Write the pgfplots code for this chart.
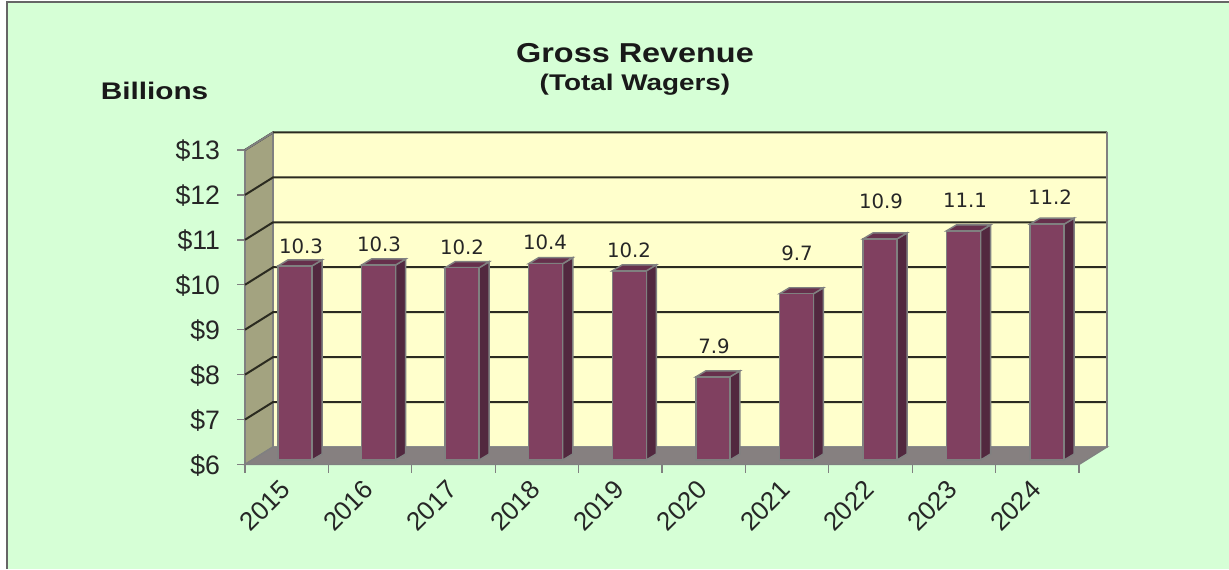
\documentclass[border=0pt]{standalone}
\usepackage{pgfplots}
\usepackage{pgfplotstable}
\usepackage{fontspec}
\setmainfont{Liberation Sans}
\newfontfamily\labfont{DejaVu Sans}
\pgfplotsset{compat=1.18}
\definecolor{bg}{HTML}{D6FFD6}
\definecolor{wall}{HTML}{FFFFCC}
\definecolor{lwall}{HTML}{A3A380}
\definecolor{floorc}{HTML}{868080}
\definecolor{face}{HTML}{804060}
\definecolor{side}{HTML}{52283F}
\definecolor{topc}{HTML}{66304C}
\definecolor{edge}{HTML}{808080}
\definecolor{gridc}{HTML}{2B2B20}
\pgfplotstableread{
x y lab
0.672 10.863 10.3
1.607 10.908 10.3
2.602 10.841 10.2
3.597 10.952 10.4
4.604 10.774 10.2
5.624 8.637 7.9
6.619 10.707 9.7
7.626 11.865 10.9
8.633 11.887 11.1
9.652 11.954 11.2
}\labels
\newcommand{\tbar}[2]{%
  \pgfmathsetmacro{\xa}{#1-0.204}\pgfmathsetmacro{\xb}{#1+0.204}%
  \pgfmathsetmacro{\xc}{\xb+0.120}\pgfmathsetmacro{\xd}{\xa+0.120}%
  \pgfmathsetmacro{\ya}{6.100}\pgfmathsetmacro{\yb}{#2+0.100}%
  \pgfmathsetmacro{\yc}{\ya+0.134}\pgfmathsetmacro{\yd}{\yb+0.134}%
  \edef\tmp{%
    \noexpand\addplot[fill=side,draw=edge,line width=1.1pt] coordinates {(\xb,\ya)(\xc,\yc)(\xc,\yd)(\xb,\yb)} -- cycle;
    \noexpand\addplot[fill=topc,draw=edge,line width=1.1pt] coordinates {(\xa,\yb)(\xb,\yb)(\xc,\yd)(\xd,\yd)} -- cycle;
    \noexpand\addplot[fill=face,draw=edge,line width=1.1pt] coordinates {(\xa,\ya)(\xb,\ya)(\xb,\yb)(\xa,\yb)} -- cycle;
  }\tmp}
\newcommand{\gline}[1]{%
  \pgfmathsetmacro{\yy}{#1+0.39}%
  \edef\tmp{\noexpand\addplot[draw=gridc,line width=1.5pt] coordinates {(0,#1)(0.336,\yy)(10.336,\yy)};}\tmp}
\begin{document}
\begin{tikzpicture}
\path[use as bounding box] (0pt,0pt) rectangle (921.75pt,426.75pt);
\fill[white] (0pt,0pt) rectangle (921.75pt,426.75pt);
\fill[bg] (5.25pt,0pt) rectangle (921.75pt,425.25pt);
\draw[color=gray!80!black,line width=0.9pt] (5.25pt,0pt) -- (5.25pt,425.25pt) -- (921.75pt,425.25pt);
\begin{axis}[
  at={(183.75pt,78.375pt)},anchor=south west,
  scale only axis,width=625.5pt,height=235.9pt,
  xmin=0,xmax=10,ymin=6,ymax=13,clip=false,
  axis x line=bottom,axis y line=left,
  axis line style={draw=edge,line width=1pt,-},
  tick style={draw=edge,line width=1pt},
  major tick length=6pt,
  tick align=outside,
  xtick={0,1,2,3,4,5,6,7,8,9,10},
  xticklabels={2015,2016,2017,2018,2019,2020,2021,2022,2023,2024,{}},
  ytick={6,7,8,9,10,11,12,13},
  yticklabels={\$6,\$7,\$8,\$9,\$10,\$11,\$12,\$13},
  xticklabel style={font=\fontsize{19.5}{19.5}\selectfont,xshift=15pt,yshift=-25pt,rotate=45,anchor=center,text=black!85},
  yticklabel style={font=\fontsize{20}{20}\selectfont,anchor=east,xshift=-9.2pt,yshift=-0.7pt,text=black!85},
]
\addplot[fill=wall,draw=edge!70,line width=0.8pt] coordinates {(0.336,6.39)(10.336,6.39)(10.336,13.39)(0.336,13.39)} -- cycle;
\addplot[fill=lwall,draw=edge,line width=1.2pt] coordinates {(0,6)(0.336,6.39)(0.336,13.39)(0,13)} -- cycle;
\addplot[fill=floorc,draw=edge,line width=1pt] coordinates {(0,6)(10,6)(10.336,6.39)(0.336,6.39)} -- cycle;
\gline{7}\gline{8}\gline{9}\gline{10}\gline{11}\gline{12}\gline{13}
\addplot[draw=edge,line width=1.4pt] coordinates {(0,13)(0.336,13.39)};
\addplot[draw=edge,line width=1.6pt] coordinates {(10.336,6.39)(10.336,13.39)};
\tbar{0.600}{10.32}
\tbar{1.602}{10.34}
\tbar{2.604}{10.28}
\tbar{3.606}{10.37}
\tbar{4.608}{10.21}
\tbar{5.610}{7.85}
\tbar{6.612}{9.70}
\tbar{7.614}{10.92}
\tbar{8.616}{11.10}
\tbar{9.618}{11.25}
\addplot[draw=none,mark=none,
  nodes near coords,point meta=explicit symbolic,
  nodes near coords style={anchor=center,inner sep=0pt,font=\labfont\fontsize{14.8}{14.8}\selectfont,text=black!85}]
  table[x=x,y=y,meta=lab] {\labels};
\end{axis}
\node[font=\bfseries\fontsize{20.5}{20.5}\selectfont,text=black!90,xscale=1.185] at (476.25pt,387pt) {Gross Revenue};
\node[font=\bfseries\fontsize{17}{17}\selectfont,text=black!90,xscale=1.23] at (476.25pt,363.5pt) {(Total Wagers)};
\node[font=\bfseries\fontsize{18}{18}\selectfont,text=black!90,xscale=1.24] at (115.9pt,358.5pt) {Billions};
\end{tikzpicture}
\end{document}
